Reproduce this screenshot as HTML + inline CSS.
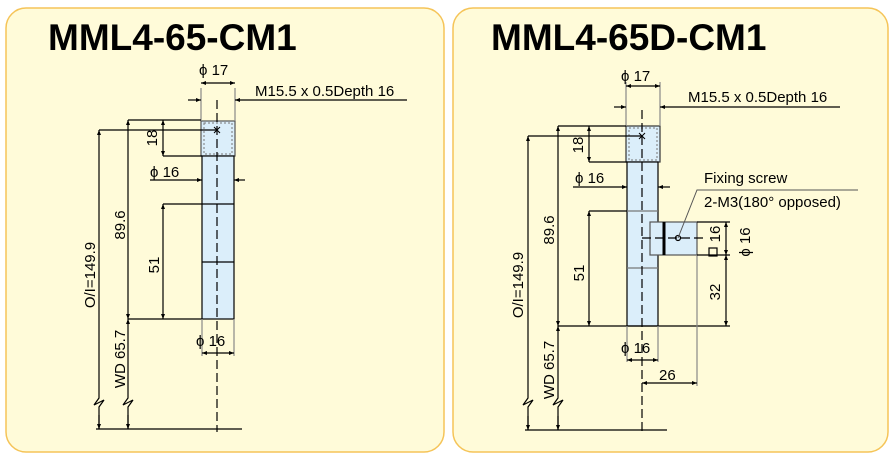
<!DOCTYPE html>
<html><head><meta charset="utf-8"><style>
html,body{margin:0;padding:0;background:#fff;}
svg{display:block;font-family:"Liberation Sans",sans-serif;}
</style></head><body>
<svg width="893" height="461" viewBox="0 0 893 461" xmlns="http://www.w3.org/2000/svg">
<defs>
<marker id="a" viewBox="0 0 10 10" refX="10" refY="5" markerWidth="7" markerHeight="5" orient="auto-start-reverse" markerUnits="userSpaceOnUse"><path d="M0,1 L10,5 L0,9 z" fill="#000"/></marker>
</defs>
<rect x="6" y="8" width="438" height="444" rx="20" fill="#fffbd9" stroke="#f5c458" stroke-width="1.5"/>
<rect x="453" y="8" width="435" height="444" rx="20" fill="#fffbd9" stroke="#f5c458" stroke-width="1.5"/>
<text x="48" y="50" font-size="37" font-weight="bold">MML4-65-CM1</text>
<text x="491" y="50" font-size="37" font-weight="bold">MML4-65D-CM1</text>

<g stroke="#000" stroke-width="1.2" fill="none">
<!-- LEFT -->
<rect x="201" y="121" width="34" height="35" fill="#dbeefa" stroke="#555"/>
<rect x="204" y="123" width="28" height="31" stroke="#777" stroke-width="1" stroke-dasharray="2,2"/>
<rect x="202" y="156" width="32" height="163" fill="#dbeefa"/>
<line x1="202" y1="204" x2="234" y2="204"/><line x1="202" y1="262" x2="234" y2="262"/>
<line x1="217" y1="100" x2="217" y2="432" stroke-dasharray="9,4"/>
<path d="M214,127 l6,6 M220,127 l-6,6" stroke-width="1"/>
<line x1="201" y1="88" x2="201" y2="121" stroke="#888"/><line x1="235" y1="88" x2="235" y2="121" stroke="#888"/>
<line x1="201" y1="83" x2="235" y2="83" marker-start="url(#a)" marker-end="url(#a)"/>
<line x1="188" y1="100" x2="201" y2="100" marker-end="url(#a)"/>
<line x1="407" y1="100" x2="235" y2="100" marker-end="url(#a)"/>
<line x1="128" y1="120" x2="201" y2="120"/><line x1="99" y1="130" x2="217" y2="130"/>
<line x1="163" y1="156" x2="202" y2="156"/><line x1="163" y1="204" x2="202" y2="204"/>
<line x1="128" y1="319" x2="202" y2="319"/>
<line x1="128" y1="120" x2="128" y2="319" marker-start="url(#a)" marker-end="url(#a)"/>
<line x1="163" y1="120" x2="163" y2="156" marker-start="url(#a)" marker-end="url(#a)"/>
<line x1="163" y1="204" x2="163" y2="319" marker-start="url(#a)" marker-end="url(#a)"/>
<line x1="150" y1="180" x2="202" y2="180" marker-end="url(#a)"/>
<line x1="245" y1="180" x2="234" y2="180" marker-end="url(#a)"/>
<line x1="202" y1="319" x2="202" y2="356" stroke="#888"/><line x1="234" y1="319" x2="234" y2="356" stroke="#888"/>
<line x1="202" y1="353" x2="234" y2="353" marker-start="url(#a)" marker-end="url(#a)"/>
<path d="M99,130 V398 L94,405 L104,400 L99,407 V429" marker-start="url(#a)"/>
<line x1="99" y1="415" x2="99" y2="429" marker-end="url(#a)"/>
<path d="M128,319 V398 L123,405 L133,400 L128,407 V429" marker-start="url(#a)"/>
<line x1="128" y1="415" x2="128" y2="429" marker-end="url(#a)"/>
<line x1="96" y1="429" x2="242" y2="429"/>

<!-- RIGHT -->
<rect x="626" y="126" width="34" height="36" fill="#dbeefa" stroke="#333"/>
<rect x="629" y="128" width="28" height="32" stroke="#777" stroke-width="1" stroke-dasharray="2,2"/>
<rect x="627" y="162" width="31" height="164" fill="#dbeefa"/>
<line x1="627" y1="211" x2="658" y2="211" stroke="#777"/><line x1="627" y1="268" x2="658" y2="268" stroke="#777"/>
<rect x="650" y="222" width="47" height="33" fill="#dbeefa" stroke="#555"/>
<line x1="664" y1="222" x2="664" y2="255" stroke-width="3"/>
<circle cx="678" cy="238" r="2.5"/>
<line x1="642" y1="238" x2="706" y2="238" stroke-dasharray="9,4"/>
<line x1="642" y1="110" x2="642" y2="434" stroke-dasharray="9,4"/>
<path d="M639,133 l6,6 M645,133 l-6,6" stroke-width="1"/>
<line x1="626" y1="82" x2="626" y2="126" stroke="#888"/><line x1="660" y1="82" x2="660" y2="126" stroke="#888"/>
<line x1="626" y1="86" x2="660" y2="86" marker-start="url(#a)" marker-end="url(#a)"/>
<line x1="614" y1="107" x2="626" y2="107" marker-end="url(#a)"/>
<line x1="840" y1="107" x2="660" y2="107" marker-end="url(#a)"/>
<line x1="558" y1="126" x2="626" y2="126"/><line x1="528" y1="136" x2="642" y2="136"/>
<line x1="589" y1="162" x2="627" y2="162"/><line x1="589" y1="211" x2="627" y2="211"/>
<line x1="558" y1="326" x2="730" y2="326"/>
<line x1="558" y1="126" x2="558" y2="326" marker-start="url(#a)" marker-end="url(#a)"/>
<line x1="589" y1="126" x2="589" y2="162" marker-start="url(#a)" marker-end="url(#a)"/>
<line x1="589" y1="211" x2="589" y2="326" marker-start="url(#a)" marker-end="url(#a)"/>
<line x1="573" y1="187" x2="627" y2="187" marker-end="url(#a)"/>
<line x1="670" y1="187" x2="658" y2="187" marker-end="url(#a)"/>
<line x1="627" y1="326" x2="627" y2="362" stroke="#888"/><line x1="658" y1="326" x2="658" y2="362" stroke="#888"/>
<line x1="627" y1="360" x2="658" y2="360" marker-start="url(#a)" marker-end="url(#a)"/>
<line x1="697" y1="255" x2="697" y2="386" stroke="#888"/>
<line x1="642" y1="383" x2="697" y2="383" marker-start="url(#a)" marker-end="url(#a)"/>
<line x1="697" y1="222" x2="730" y2="222"/><line x1="697" y1="255" x2="730" y2="255"/>
<line x1="726" y1="222" x2="726" y2="255" marker-start="url(#a)" marker-end="url(#a)"/>
<line x1="726" y1="255" x2="726" y2="326" marker-start="url(#a)" marker-end="url(#a)"/>
<polyline points="858,190 697,190 678,238" stroke="#555" stroke-width="1"/>
<path d="M528,136 V398 L523,405 L533,400 L528,407 V430" marker-start="url(#a)"/>
<line x1="528" y1="416" x2="528" y2="430" marker-end="url(#a)"/>
<path d="M558,326 V398 L553,405 L563,400 L558,407 V430" marker-start="url(#a)"/>
<line x1="558" y1="416" x2="558" y2="430" marker-end="url(#a)"/>
<line x1="525" y1="430" x2="667" y2="430"/>
<rect x="709" y="248" width="8" height="8"/>
</g>

<g font-size="15" fill="#000">
<text x="199" y="75">ϕ 17</text>
<text x="255" y="96">M15.5 x 0.5Depth 16</text>
<text x="150" y="177">ϕ 16</text>
<text x="196" y="346">ϕ 16</text>
<text transform="translate(157,138) rotate(-90)" text-anchor="middle">18</text>
<text transform="translate(125,225) rotate(-90)" text-anchor="middle">89.6</text>
<text transform="translate(159,265) rotate(-90)" text-anchor="middle">51</text>
<text transform="translate(95,275) rotate(-90)" text-anchor="middle">O/I=149.9</text>
<text transform="translate(125,359) rotate(-90)" text-anchor="middle">WD 65.7</text>
<text x="621" y="81">ϕ 17</text>
<text x="688" y="102">M15.5 x 0.5Depth 16</text>
<text x="575" y="183">ϕ 16</text>
<text x="621" y="353">ϕ 16</text>
<text x="659" y="380">26</text>
<text x="704" y="183">Fixing screw</text>
<text x="704" y="207">2-M3(180° opposed)</text>
<text transform="translate(583,145) rotate(-90)" text-anchor="middle">18</text>
<text transform="translate(554,230) rotate(-90)" text-anchor="middle">89.6</text>
<text transform="translate(584,273) rotate(-90)" text-anchor="middle">51</text>
<text transform="translate(523,285) rotate(-90)" text-anchor="middle">O/I=149.9</text>
<text transform="translate(554,370) rotate(-90)" text-anchor="middle">WD 65.7</text>
<text transform="translate(720,234) rotate(-90)" text-anchor="middle">16</text>
<text transform="translate(750,242) rotate(-90)" text-anchor="middle">ϕ 16</text>
<text transform="translate(720,292) rotate(-90)" text-anchor="middle">32</text>
</g>
</svg>
</body></html>
